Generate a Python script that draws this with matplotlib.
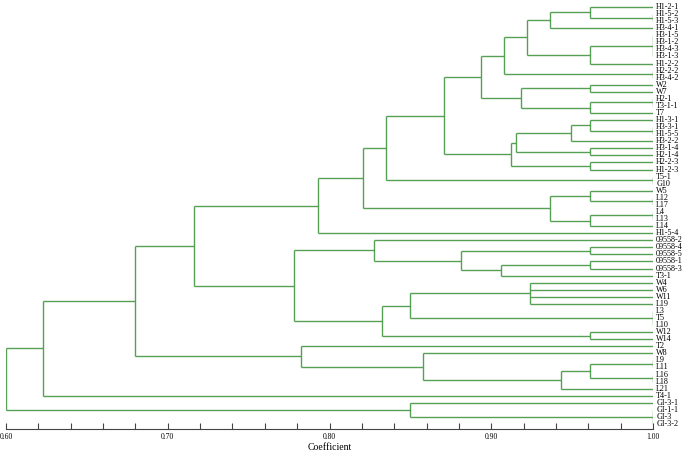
import matplotlib
matplotlib.use("Agg")
from matplotlib import pyplot as plt
from matplotlib.ticker import MultipleLocator

plt.rcParams['font.family'] = ['Liberation Serif', 'DejaVu Serif']

# leaf labels, top to bottom
labels = ["H1-2-1", "H1-5-2", "H1-5-3", "H3-4-1", "H3-1-5", "H3-1-2", "H3-4-3",
          "H3-1-3", "H1-2-2", "H2-2-2", "H3-4-2", "W2", "W7", "H2-1", "T3-1-1",
          "T7", "H1-3-1", "H3-3-1", "H1-5-5", "H3-2-2", "H3-1-4", "H2-1-4",
          "H2-2-3", "H1-2-3", "T5-1", "G10", "W5", "L12", "L17", "L4", "L13",
          "L14", "H1-5-4", "09558-2", "09558-4", "09558-5", "09558-1", "09558-3",
          "T3-1", "W4", "W6", "W11", "L19", "L3", "T5", "L10", "W12", "W14",
          "T2", "W8", "L9", "L11", "L16", "L18", "L21", "T4-1", "GI-3-1",
          "GI-1-1", "GI-3", "GI-3-2"]

# clusters: name, members, similarity coefficient where they join
node_names = []
node_children = []
node_heights = []


def join(name, children, h):
    node_names.append(name)
    node_children.append(children)
    node_heights.append(h)


join("n01", ["H1-5-2", "H1-5-3"], 1.00)
join("n02", ["H1-2-1", "n01"], 0.961)
join("n03", ["n02", "H3-4-1"], 0.9365)
join("n04", ["H3-1-5", "H3-1-2", "H3-4-3", "H3-1-3"], 1.00)
join("n05", ["n04", "H1-2-2"], 0.961)
join("n06", ["n03", "n05"], 0.922)
join("n07", ["H2-2-2", "H3-4-2"], 1.00)
join("n08", ["n06", "n07"], 0.9076)
join("n09", ["W2", "W7"], 0.961)
join("n10", ["H2-1", "T3-1-1"], 1.00)
join("n11", ["n10", "T7"], 0.961)
join("n12", ["n09", "n11"], 0.9187)
join("n13", ["n08", "n12"], 0.8934)
join("n14", ["H3-3-1", "H1-5-5"], 1.00)
join("n15", ["H1-3-1", "n14"], 0.961)
join("n16", ["n15", "H3-2-2"], 0.949)
join("n17", ["H3-1-4", "H2-1-4"], 0.961)
join("n18", ["n16", "n17"], 0.9156)
join("n19", ["H2-2-3", "H1-2-3"], 0.961)
join("n20", ["n18", "n19"], 0.9125)
join("n21", ["n13", "n20"], 0.8706)
join("n22", ["T5-1", "G10"], 1.00)
join("n23", ["n21", "n22"], 0.835)
join("n24", ["L12", "L17"], 1.00)
join("n25", ["W5", "n24"], 0.961)
join("n26", ["L4", "L13"], 1.00)
join("n27", ["n26", "L14"], 0.961)
join("n28", ["n25", "n27"], 0.9365)
join("n29", ["n23", "n28"], 0.8207)
join("n30", ["n29", "H1-5-4"], 0.793)
join("n31", ["09558-4", "09558-5"], 0.961)
join("n32", ["09558-1", "09558-3"], 0.961)
join("n33", ["n32", "T3-1"], 0.906)
join("n34", ["n31", "n33"], 0.881)
join("n35", ["09558-2", "n34"], 0.8274)
join("n36", ["W4", "W6", "W11", "L19"], 0.924)
join("n37", ["L3", "T5", "L10"], 1.00)
join("n38", ["n36", "n37"], 0.850)
join("n39", ["W12", "W14"], 0.961)
join("n40", ["n38", "n39"], 0.8324)
join("n41", ["n35", "n40"], 0.778)
join("n42", ["n30", "n41"], 0.7165)
join("n43", ["L9", "L11"], 1.00)
join("n44", ["L16", "L18"], 1.00)
join("n45", ["n43", "n44"], 0.961)
join("n46", ["n45", "L21"], 0.9433)
join("n47", ["W8", "n46"], 0.8576)
join("n48", ["T2", "n47"], 0.7824)
join("n49", ["n42", "n48"], 0.6795)
join("n50", ["n49", "T4-1"], 0.6228)
join("n51", ["GI-1-1", "GI-3", "GI-3-2"], 1.00)
join("n52", ["GI-3-1", "n51"], 0.850)
join("n53", ["n50", "n52"], 0.60)

color = "#55a055"

fig = plt.figure(figsize=(6.85, 4.51), dpi=100)
ax = fig.add_axes([6 / 685, 1 - 429 / 451, (653 - 6) / 685, 429 / 451])

# position of every leaf / cluster: (x = coefficient, y = row)
pos = {name: (1.0, i) for i, name in enumerate(labels)}
for name, children, h in zip(node_names, node_children, node_heights):
    ys = [pos[c][1] for c in children]
    for c in children:
        cx, cy = pos[c]
        ax.plot([cx, h], [cy, cy], color=color, lw=1.0, solid_capstyle='butt')
    ax.plot([h, h], [min(ys), max(ys)], color=color, lw=1.0, solid_capstyle='butt')
    pos[name] = (h, (min(ys) + max(ys)) / 2)

for i, name in enumerate(labels):
    ax.text(1.002, i, name, ha='left', va='center', fontsize=5.9, clip_on=False)

ax.set_xlim(0.60, 1.00)
ax.set_ylim(59 + 5 / 7.068, -7 / 7.068)
for side in ["top", "right", "left"]:
    ax.spines[side].set_visible(False)
ax.spines["bottom"].set_color("#444444")
ax.spines["bottom"].set_linewidth(0.8)
ax.set_yticks([])
ax.xaxis.set_major_locator(MultipleLocator(0.10))
ax.xaxis.set_minor_locator(MultipleLocator(0.02))
ax.xaxis.set_major_formatter(plt.FormatStrFormatter("%.2f"))
ax.tick_params(axis='x', which='both', direction='in', length=4, width=0.8,
               color="#444444", labelsize=5.5, pad=3)
ax.set_xlabel("Coefficient", fontsize=7, labelpad=1)
ax.patch.set_alpha(0)

fig.savefig("out.png", dpi=100)
